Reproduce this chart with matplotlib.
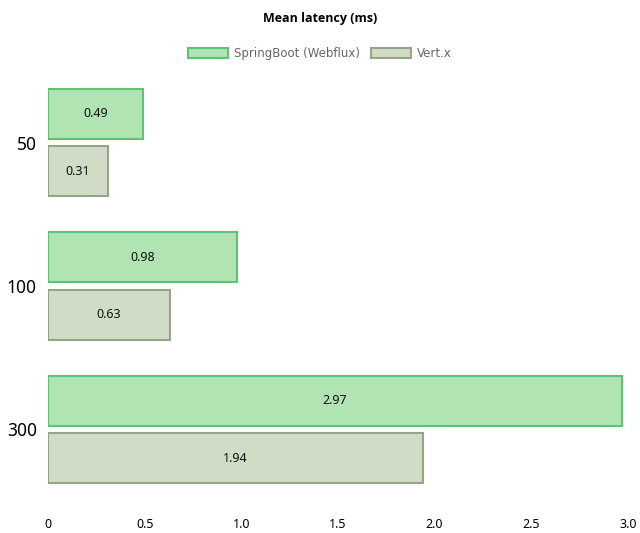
import matplotlib.pyplot as plt
import numpy as np

plt.rcParams['font.family'] = ['Noto Sans', 'DejaVu Sans']

categories = ['50', '100', '300']
springboot = [0.49, 0.98, 2.97]
vertx = [0.31, 0.63, 1.94]
series_names = ['SpringBoot (Webflux)', 'Vert.x']
x_ticks = [0, 0.5, 1.0, 1.5, 2.0, 2.5, 3.0]
x_tick_labels = ['0', '0.5', '1.0', '1.5', '2.0', '2.5', '3.0']

fig = plt.figure(figsize=(6.4, 5.33), dpi=100)
ax = fig.add_axes([0.075, 0.060, 0.906, 0.807])

y = np.arange(len(categories))
h = 0.35
off = 0.2

b1 = ax.barh(y - off, springboot, height=h, color='#b1e4b3', edgecolor='#5dc472', linewidth=1.5,
             label=series_names[0])
b2 = ax.barh(y + off, vertx, height=h, color='#d1dcc6', edgecolor='#98a38a', linewidth=1.5,
             label=series_names[1])

for bars, vals in ((b1, springboot), (b2, vertx)):
    for bar, v in zip(bars, vals):
        ax.text(bar.get_width() / 2, bar.get_y() + bar.get_height() / 2, f'{v:.2f}',
                ha='center', va='center', fontsize=9, color='#111111')

ax.set_xlim(0, 3.0)
ax.set_ylim(2.5, -0.5)
ax.set_yticks(y)
ax.set_yticklabels(categories, fontsize=12.5)
ax.set_xticks(x_ticks)
ax.set_xticklabels(x_tick_labels, fontsize=9)
ax.tick_params(axis='y', length=0, pad=8)
ax.tick_params(axis='x', length=0, pad=12)
for s in ax.spines.values():
    s.set_visible(False)

fig.text(0.5, 0.965, 'Mean latency (ms)', ha='center', va='center', fontsize=9,
         fontweight='bold', family='Open Sans')
fig.legend(handles=[b1, b2], labels=series_names, loc='center', bbox_to_anchor=(0.5, 0.9),
           ncol=2, frameon=False, labelcolor='#666666', handlelength=3.4,
           handleheight=0.9, columnspacing=0.9, handletextpad=0.5,
           prop={'family': 'DejaVu Sans', 'size': 8.5})

fig.savefig('out.png', dpi=100)
